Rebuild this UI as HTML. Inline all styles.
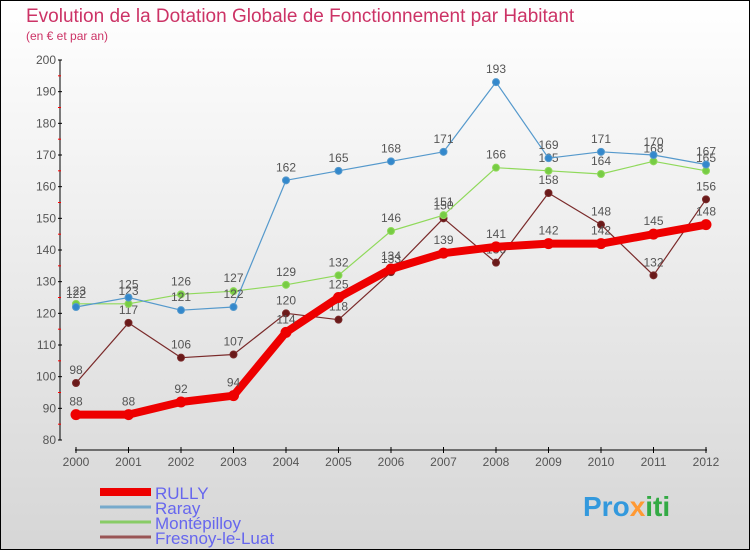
<!DOCTYPE html>
<html><head><meta charset="utf-8"><style>
body{margin:0}
svg{display:block;font-family:"Liberation Sans","DejaVu Sans",sans-serif}
</style></head><body>
<svg id="c" width="750" height="550" xmlns="http://www.w3.org/2000/svg">
<defs><linearGradient id="bg" x1="0" y1="0" x2="0" y2="1"><stop offset="0" stop-color="#ffffff"/><stop offset="1" stop-color="#d6d6d6"/></linearGradient></defs>
<rect x="0.5" y="0.5" width="749" height="549" fill="url(#bg)" stroke="#000"/>
<text x="26" y="22" font-size="19" fill="#cc3366">Evolution de la Dotation Globale de Fonctionnement par Habitant</text>
<text x="26" y="40" font-size="12" fill="#cc3366">(en € et par an)</text>
<g id="axes"></g>
<g id="series"></g>
<g id="legend"></g>
<text x="583" y="516" font-size="28" font-weight="bold" fill="#3399dd">Pro<tspan fill="#ff9933">x</tspan><tspan fill="#33aa44">iti</tspan></text>
</svg>
<script>
const years=[2000,2001,2002,2003,2004,2005,2006,2007,2008,2009,2010,2011,2012];
const yTicks=[80,90,100,110,120,130,140,150,160,170,180,190,200];
const rully=[88,88,92,94,114,125,134,139,141,142,142,145,148];
const raray=[122,125,121,122,162,165,168,171,193,169,171,170,167];
const montepilloy=[123,123,126,127,129,132,146,151,166,165,164,168,165];
const fresnoy=[98,117,106,107,120,118,133,150,136,158,148,132,156];
const NS="http://www.w3.org/2000/svg";
function xs(i){return 76+i*52.5;}
function ys(v){return 440-(v-80)*380/120;}
function mk(tag,attrs,parent){const e=document.createElementNS(NS,tag);for(const k in attrs)e.setAttribute(k,attrs[k]);parent.appendChild(e);return e;}
const ax=document.getElementById('axes');
let l=mk('line',{x1:60,y1:60,x2:60,y2:440,stroke:'#000'},ax);


yTicks.forEach((t,i)=>{
 mk('line',{x1:58,y1:ys(t),x2:62,y2:ys(t),stroke:'#000'},ax);
 if(i<yTicks.length-1){mk('line',{x1:58,y1:ys(t+5),x2:61,y2:ys(t+5),stroke:'#f00'},ax);}
 const tx=mk('text',{x:56,y:ys(t)+4,'font-size':12,fill:'#555','text-anchor':'end'},ax);tx.textContent=t;
 
 
});
l=mk('line',{x1:75,y1:450,x2:707,y2:450,stroke:'#000'},ax);


years.forEach((y,i)=>{
 mk('line',{x1:xs(i),y1:447,x2:xs(i),y2:453,stroke:'#000'},ax);
 const tx=mk('text',{x:xs(i),y:466,'font-size':12,fill:'#555','text-anchor':'middle'},ax);tx.textContent=y;
 
 
});
const sg=document.getElementById('series');
function draw(vals,color,dot,w,r,name){
 const g=mk('g',{},sg);
 
 
 mk('polyline',{points:vals.map((v,i)=>xs(i)+','+ys(v)).join(' '),fill:'none',stroke:color,'stroke-width':w,'stroke-linejoin':'round'},g);
 vals.forEach((v,i)=>{
  const c=mk('circle',{cx:xs(i),cy:ys(v),r:r,fill:dot,stroke:color,'stroke-width':1},g);
  
  
  const t=mk('text',{x:xs(i),y:ys(v)-9,'font-size':12,fill:'#555','text-anchor':'middle'},g);t.textContent=v;
  
  
 });
}
draw(fresnoy,'#7a2a2a','#6a1a1a',1.2,3.5,'fresnoy');
draw(montepilloy,'#8fd95a','#77cc44',1.2,3.5,'montepilloy');
draw(raray,'#5599cc','#3388cc',1.2,3.5,'raray');
draw(rully,'#ee0000','#ee0000',8,5,'rully');
const lg=document.getElementById('legend');
[['RULLY','#ee0000',8],['Raray','#77aacc',3],['Montépilloy','#88cc66',3],['Fresnoy-le-Luat','#995555',3]].forEach((d,i)=>{
 const y=492+i*15;
 const ln=mk('line',{x1:100,y1:y,x2:151,y2:y,stroke:d[1],'stroke-width':d[2]},lg);
 
 
 const t=mk('text',{x:155,y:y+7,'font-size':17,fill:'#6666ee'},lg);t.textContent=d[0];
 
 
});
</script>
</body></html>
